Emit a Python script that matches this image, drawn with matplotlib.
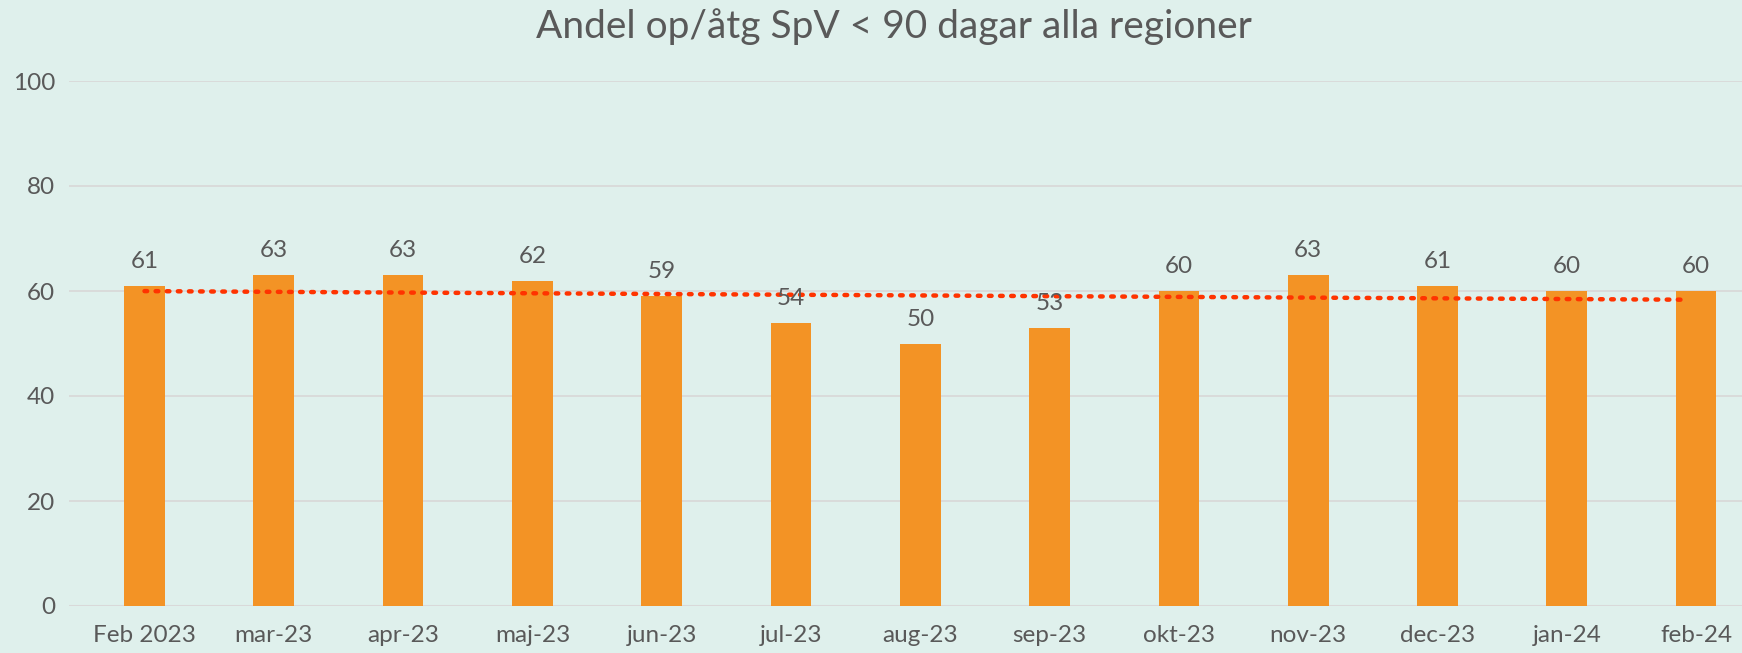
import numpy as np
import matplotlib
matplotlib.use("Agg")
import matplotlib.pyplot as plt

categories = ["Feb 2023", "mar-23", "apr-23", "maj-23", "jun-23", "jul-23", "aug-23",
              "sep-23", "okt-23", "nov-23", "dec-23", "jan-24", "feb-24"]
values = [61, 63, 63, 62, 59, 54, 50, 53, 60, 63, 61, 60, 60]
yticks = [0, 20, 40, 60, 80, 100]
title = "Andel op/åtg SpV < 90 dagar alla regioner"

plt.rcParams['font.family'] = ['Lato', 'DejaVu Sans']
bg = "#DFF0EC"
W, H = 1742, 653
fig = plt.figure(figsize=(W / 100, H / 100), dpi=100, facecolor=bg)
left, right = 69 / W, 1.0
bottom, top = 1 - 606 / H, 1 - 81 / H
ax = fig.add_axes([left, bottom, right - left, top - bottom], facecolor=bg)

x = np.arange(len(categories))
ax.bar(x, values, width=0.315, color="#F39325", zorder=3)

for xi, v in zip(x, values):
    ax.annotate(str(v), (xi, v), xytext=(0, 10), textcoords="offset points",
                ha="center", va="bottom", fontsize=17.5, color="#595959", zorder=5)

coef = np.polyfit(x, values, 1)
xt = np.linspace(0, 11.94, 100)
ax.plot(xt, np.polyval(coef, xt), color="#FF3300", linestyle=(0, (0.6, 1.9)),
        linewidth=3.2, dash_capstyle="round", zorder=4)

ax.set_ylim(0, 100)
ax.set_xlim((69 - 144.5) / 129.3, (1742 - 144.5) / 129.3)
ax.set_yticks(yticks)
ax.set_xticks(x)
ax.set_xticklabels(categories)
ax.tick_params(axis="both", length=0, labelsize=17.5, labelcolor="#595959")
ax.tick_params(axis="x", pad=14)
ax.tick_params(axis="y", pad=10)
ax.grid(axis="y", color="#D9D9D9", linewidth=1.3, zorder=0)
for s in ax.spines.values():
    s.set_visible(False)
ax.axhline(0, color="#D9D9D9", linewidth=1.5, zorder=2)

fig.text(894 / W, 1 - 27 / H, title, ha="center", va="center", fontsize=28,
         color="#595959")

fig.savefig("out.png", dpi=100, facecolor=bg)
